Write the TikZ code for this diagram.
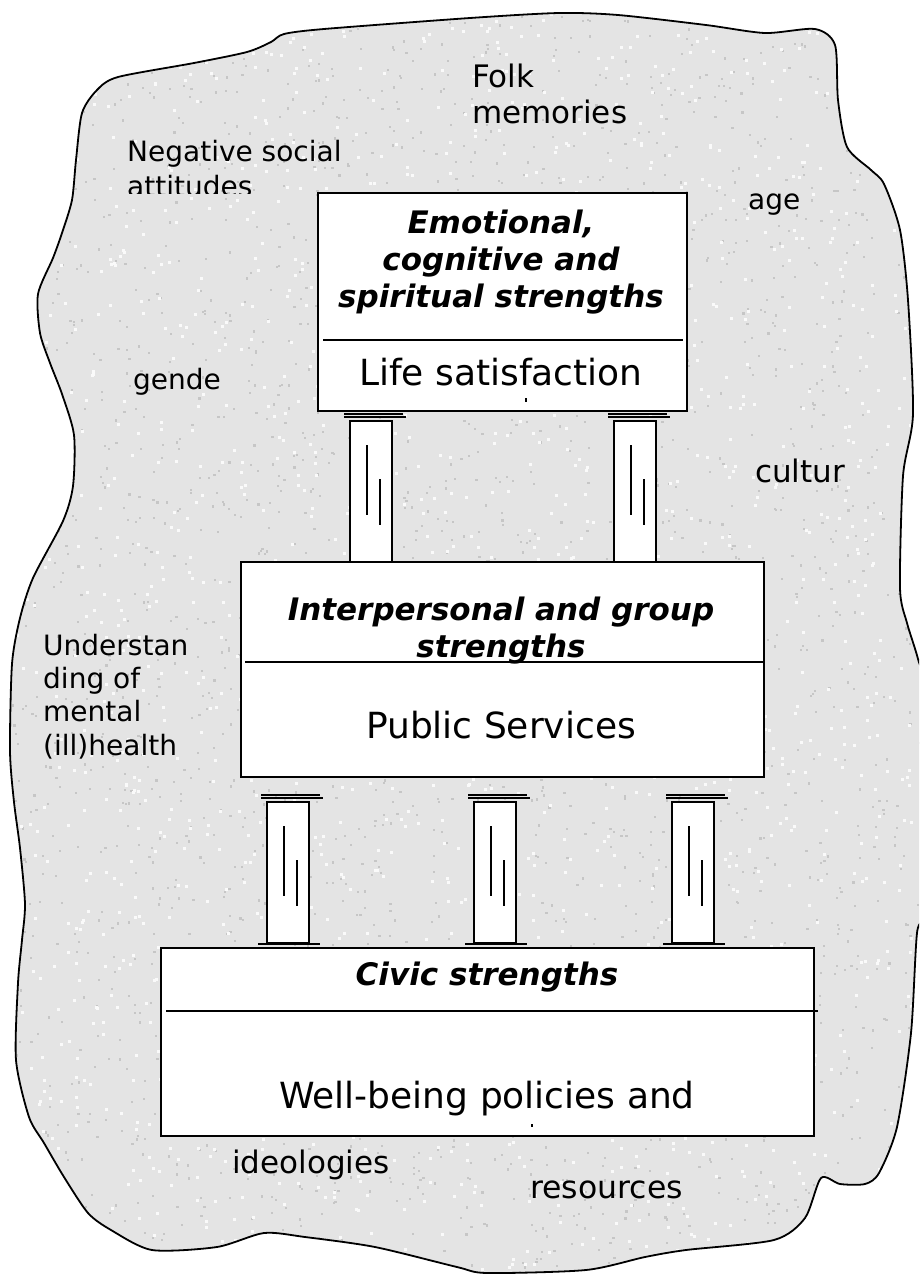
\documentclass[tikz,border=0pt]{standalone}
\usepackage{fontspec}
\setmainfont{DejaVu Sans}
\begin{document}
\begin{tikzpicture}[x=1pt,y=-1pt,
  blobline/.style={draw=black, line width=1.8pt, fill=blobgray},
  box/.style={draw=black, line width=2pt, fill=white, inner sep=0pt, anchor=north west},
  divider/.style={draw=black, line width=1.8pt},
  pline/.style={draw=black, line width=1.8pt},
  lbl/.style={inner sep=0pt, anchor=base west, align=left},
  title/.style={inner sep=0pt, anchor=base, align=center, font=\bfseries\itshape\fontsize{31}{37}\selectfont},
  big/.style={inner sep=0pt, anchor=base, font=\fontsize{36}{42}\selectfont},
  speck/.style={fill=gray!45},
  pillar/.pic={
    \draw[pline] (-6,-7) -- (53,-7);
    \draw[pline] (-6,-4) -- (56,-4);
    \draw[pline, fill=white] (0,0) rectangle (42,141);
    \draw[pline] (-9,142) -- (53,142);
    \draw[pline] (17,24) -- (17,94);
    \draw[pline] (30,58) -- (30,104);
  }]
\definecolor{blobgray}{RGB}{228,228,228}
\useasboundingbox (0,0) rectangle (919,1275);
\clip (0,0) rectangle (919,1275);
\fill[white] (0,0) rectangle (919,1275);

% background stone
\def\blobpath{plot[smooth cycle, tension=0.45] coordinates {
 (118,77) (194,63) (247,52) (271,42) (284,34) (324,29) (470,18) (559,13) (618,15) (706,25) (765,33) (815,29)
 (835,45) (838,100) (847,147) (871,170) (884,184) (900,230) (908,300) (913,414) (903,476) (900,588)
 (907,623) (918,659) (926,700) (926,900) (917,933) (911,1033) (897,1127) (879,1173) (865,1184)
 (840,1184) (821,1178) (805,1218) (774,1240) (686,1250) (645,1257) (586,1270) (487,1273) (457,1267)
 (375,1247) (305,1237) (264,1233) (217,1247) (152,1250) (111,1230) (88,1213) (64,1177) (44,1143)
 (29,1117) (16,1060) (18,983) (22,940) (25,904) (20,848) (14,802) (10,751) (12,664) (20,618) (33,578)
 (63,521) (73,486) (74,435) (62,394) (50,363) (40,333) (38,294) (53,258) (62,233) (72,200) (76,160)
 (82,113) (97,90)}}
\fill[blobgray] \blobpath;
\begin{scope}
  \clip \blobpath;
  \pgfmathsetseed{7}
  \foreach \i in {1,...,2600} {
    \pgfmathsetmacro{\px}{rnd*919}
    \pgfmathsetmacro{\py}{rnd*1275}
    \fill[speck] (\px,\py) rectangle ++(2.2,2.2);
  }
  \foreach \i in {1,...,1800} {
    \pgfmathsetmacro{\px}{rnd*919}
    \pgfmathsetmacro{\py}{rnd*1275}
    \fill[white!96!gray] (\px,\py) rectangle ++(3,3);
  }
\end{scope}
\draw[blobline, fill=none] \blobpath;

% surrounding labels
\node[lbl, font=\fontsize{31}{36}\selectfont] (folk) at (472,123) {Folk\\memories};
\node[lbl, font=\fontsize{28}{33}\selectfont] (neg) at (127,161) {Negative social};
\begin{scope}
  \clip (100,165) rectangle (320,193);
  \node[lbl, font=\fontsize{28}{33}\selectfont] (att) at (127,196) {attitudes};
\end{scope}
\node[lbl, font=\fontsize{28}{33}\selectfont] (age) at (748,209) {age};
\node[lbl, font=\fontsize{28}{33}\selectfont] (gen) at (133,389) {gende};
\node[lbl, font=\fontsize{31}{36}\selectfont] (cul) at (755,482) {cultur};
\node[lbl, font=\fontsize{28}{33.3}\selectfont] (und) at (43,755) {Understan\\ding of\\mental\\(ill)health};
\begin{scope}
  \clip (200,1130) rectangle (420,1179);
  \node[lbl, font=\fontsize{31}{36}\selectfont] (ideo) at (232,1173) {ideologies};
\end{scope}
\node[lbl, font=\fontsize{31.5}{36}\selectfont] (res) at (530,1198) {resources};

% pillars
\pic at (350,421) {pillar};
\pic at (614,421) {pillar};
\pic at (267,802) {pillar};
\pic at (474,802) {pillar};
\pic at (672,802) {pillar};

% box 1
\node[box, minimum width=369, minimum height=218] (b1) at (317,192) {};
\draw[divider] (323,340) -- (683,340);
\node[title] (t1) at (501,307) {Emotional,\\cognitive and\\spiritual strengths};
\node[big] (s1) at (501,385) {Life satisfaction};
\fill (525,398) rectangle (527,402);

% box 2
\node[box, minimum width=523, minimum height=215] (b2) at (240,561) {};
\draw[divider] (245,662) -- (b2.east |- 0,662);
\node[title] (t2) at (501,657) {Interpersonal and group\\strengths};
\node[big] (s2) at (501,738) {Public Services};

% box 3
\node[box, minimum width=653, minimum height=188] (b3) at (160,947) {};
\draw[divider] (166,1011) -- (818,1011);
\node[title] (t3) at (487,985) {Civic strengths};
\node[big] (s3) at (487,1108) {Well-being policies and};
\fill (531,1124) rectangle (533,1127);
\end{tikzpicture}
\end{document}
